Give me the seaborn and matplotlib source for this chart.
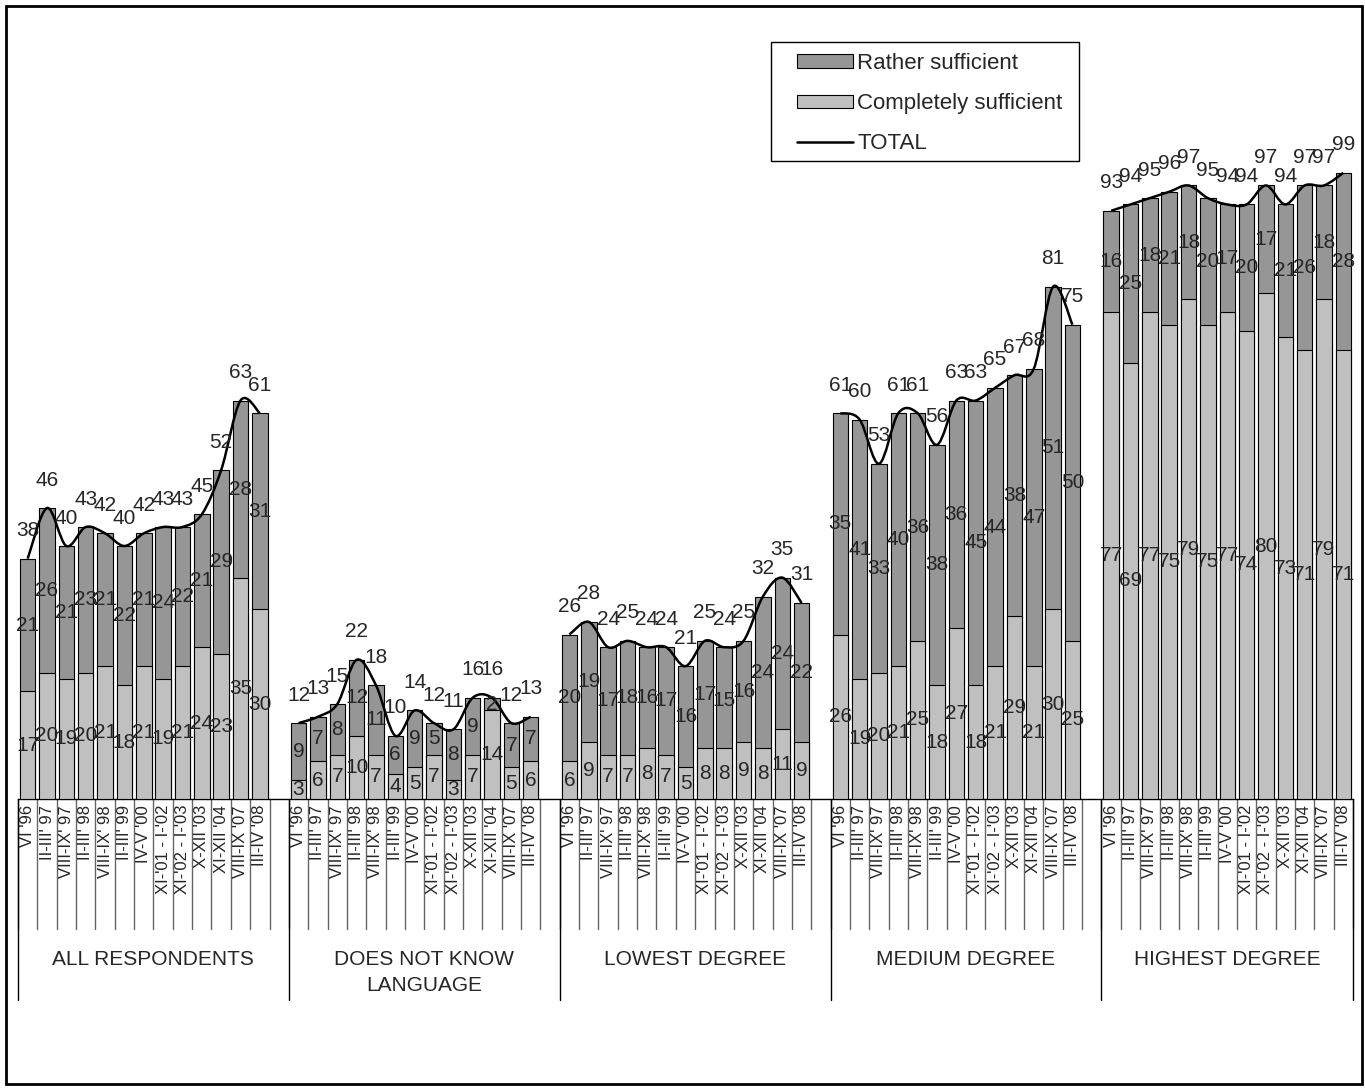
import numpy as np
import pandas as pd
import matplotlib
matplotlib.use("Agg")
import matplotlib.pyplot as plt
import matplotlib.transforms as mtransforms
import seaborn as sns
from matplotlib.path import Path
from matplotlib.patches import PathPatch, Patch, Rectangle
from matplotlib.lines import Line2D

# --- data ---
groups = ["ALL RESPONDENTS", "DOES NOT KNOW\nLANGUAGE", "LOWEST DEGREE",
          "MEDIUM DEGREE", "HIGHEST DEGREE"]
periods = ["VI '96", "II-III' 97", "VIII-IX' 97", "II-III' 98", "VIII-IX' 98",
           "II-III' 99", "IV-V '00", "XI-'01 - I-'02", "XI-'02 - I-'03",
           "X-XII '03", "XI-XII '04", "VIII-IX '07", "III-IV '08"]

all_completely = [17, 20, 19, 20, 21, 18, 21, 19, 21, 24, 23, 35, 30]
all_rather = [21, 26, 21, 23, 21, 22, 21, 24, 22, 21, 29, 28, 31]
all_total = [38, 46, 40, 43, 42, 40, 42, 43, 43, 45, 52, 63, 61]

lang_completely = [3, 6, 7, 10, 7, 4, 5, 7, 3, 7, 14, 5, 6]
lang_rather = [9, 7, 8, 12, 11, 6, 9, 5, 8, 9, 2, 7, 7]
lang_total = [12, 13, 15, 22, 18, 10, 14, 12, 11, 16, 16, 12, 13]

low_completely = [6, 9, 7, 7, 8, 7, 5, 8, 8, 9, 8, 11, 9]
low_rather = [20, 19, 17, 18, 16, 17, 16, 17, 15, 16, 24, 24, 22]
low_total = [26, 28, 24, 25, 24, 24, 21, 25, 24, 25, 32, 35, 31]

med_completely = [26, 19, 20, 21, 25, 18, 27, 18, 21, 29, 21, 30, 25]
med_rather = [35, 41, 33, 40, 36, 38, 36, 45, 44, 38, 47, 51, 50]
med_total = [61, 60, 53, 61, 61, 56, 63, 63, 65, 67, 68, 81, 75]

high_completely = [77, 69, 77, 75, 79, 75, 77, 74, 80, 73, 71, 79, 71]
high_rather = [16, 25, 18, 21, 18, 20, 17, 20, 17, 21, 26, 18, 28]
high_total = [93, 94, 95, 96, 97, 95, 94, 94, 97, 94, 97, 97, 99]

completely = [all_completely, lang_completely, low_completely, med_completely, high_completely]
rather = [all_rather, lang_rather, low_rather, med_rather, high_rather]
total = [all_total, lang_total, low_total, med_total, high_total]

DARK = "#969696"
LIGHT = "#C0C0C0"
W, H = 1365, 1088
SLOTS = len(periods) + 1  # one empty slot after every group

rows = []
for g, name in enumerate(groups):
    for i, p in enumerate(periods):
        rows.append({"group": name, "period": p, "pos": g * SLOTS + i,
                     "completely": completely[g][i], "rather": rather[g][i],
                     "total": total[g][i]})
df = pd.DataFrame(rows)

sns.set_style("white")
plt.rcParams["font.family"] = ["Liberation Sans", "DejaVu Sans"]

fig = plt.figure(figsize=(W / 100, H / 100), dpi=100)
left, right, base, top = 18, 1353, 799, 40
ax = fig.add_axes([left / W, 1 - base / H, (right - left) / W, (base - top) / H])

sns.barplot(data=df, x="pos", y="total", native_scale=True, color=DARK,
            saturation=1, edgecolor="black", linewidth=0.8, width=0.8,
            errorbar=None, ax=ax, zorder=2)
sns.barplot(data=df, x="pos", y="completely", native_scale=True, color=LIGHT,
            saturation=1, edgecolor="black", linewidth=0.8, width=0.8,
            errorbar=None, ax=ax, zorder=3)

ax.set_xlim(-0.5, len(groups) * SLOTS - 1.5)
ax.set_ylim(0, 120)
ax.set_xticks([])
ax.set_yticks([])
ax.set_xlabel("")
ax.set_ylabel("")
for s in ["top", "left", "right"]:
    ax.spines[s].set_visible(False)
ax.spines["bottom"].set_color("black")
ax.spines["bottom"].set_linewidth(1)
ax.patch.set_alpha(0)

# smooth TOTAL line (Bezier through the points, Excel-like smoothing)
for g in range(len(groups)):
    sub = df[df["group"] == groups[g]]
    pts = np.column_stack([sub["pos"].to_numpy(float), sub["total"].to_numpy(float)])
    n = len(pts)
    verts = [pts[0]]
    codes = [Path.MOVETO]
    for k in range(n - 1):
        p0 = pts[k - 1] if k > 0 else pts[k]
        p1, p2 = pts[k], pts[k + 1]
        p3 = pts[k + 2] if k + 2 < n else pts[k + 1]
        c1 = p1 + (p2 - p0) / 6
        c2 = p2 - (p3 - p1) / 6
        verts += [c1, c2, p2]
        codes += [Path.CURVE4] * 3
    ax.add_patch(PathPatch(Path(verts, codes), fill=False, edgecolor="black",
                           linewidth=1.8, zorder=4))

# value labels
fs = 15
for _, r in df.iterrows():
    ax.text(r["pos"], r["completely"] / 2, str(r["completely"]), ha="center",
            va="center", fontsize=fs, zorder=5)
    ax.text(r["pos"], r["completely"] + r["rather"] / 2, str(r["rather"]),
            ha="center", va="center", fontsize=fs, zorder=5)
    ax.annotate(str(r["total"]), xy=(r["pos"], r["total"]), xytext=(0, 28),
                textcoords="offset pixels", ha="center", va="center",
                fontsize=fs, zorder=5)

# multi-level category axis
tr = mtransforms.blended_transform_factory(ax.transData, fig.transFigure)
def fy(px):
    return 1 - px / H

for _, r in df.iterrows():
    ax.text(r["pos"], fy(805), r["period"], rotation=90, ha="center", va="top",
            fontsize=12, transform=tr, clip_on=False)

n_slots = len(groups) * SLOTS - 1
for k in range(n_slots + 1):
    x = k - 0.5
    ax.add_line(Line2D([x, x], [fy(base), fy(929)], color="#666666", lw=1,
                       transform=tr, clip_on=False))
for g in range(len(groups) + 1):
    x = min(g * SLOTS, n_slots) - 0.5
    ax.add_line(Line2D([x, x], [fy(base), fy(1000)], color="black", lw=1,
                       transform=tr, clip_on=False))
for g, name in enumerate(groups):
    x0 = g * SLOTS - 0.5
    x1 = min((g + 1) * SLOTS, n_slots) - 0.5
    ax.text((x0 + x1) / 2, fy(950), name, ha="center", va="top", fontsize=15,
            linespacing=1.45, transform=tr, clip_on=False)

# legend (frame drawn separately so the padding matches)
handles = [Patch(facecolor=DARK, edgecolor="black", linewidth=0.8),
           Patch(facecolor=LIGHT, edgecolor="black", linewidth=0.8),
           Line2D([], [], color="black", lw=1.8)]
fig.legend(handles, ["Rather sufficient", "Completely sufficient", "TOTAL"],
           loc="upper left", bbox_to_anchor=(797 / W, 1 - 53 / H),
           fontsize=16, frameon=False, handlelength=2.5, handleheight=0.55,
           handletextpad=0.2, labelspacing=0.86, borderpad=0, borderaxespad=0)
fig.patches.append(Rectangle((771 / W, 1 - 161 / H), 308 / W, 119 / H,
                             transform=fig.transFigure, fill=False,
                             edgecolor="black", linewidth=1))

# outer frame
fig.patches.append(Rectangle((6 / W, 1 - 1084 / H), 1356 / W, 1078 / H,
                             transform=fig.transFigure, fill=False,
                             edgecolor="black", linewidth=2))

fig.savefig("out.png", dpi=100)
